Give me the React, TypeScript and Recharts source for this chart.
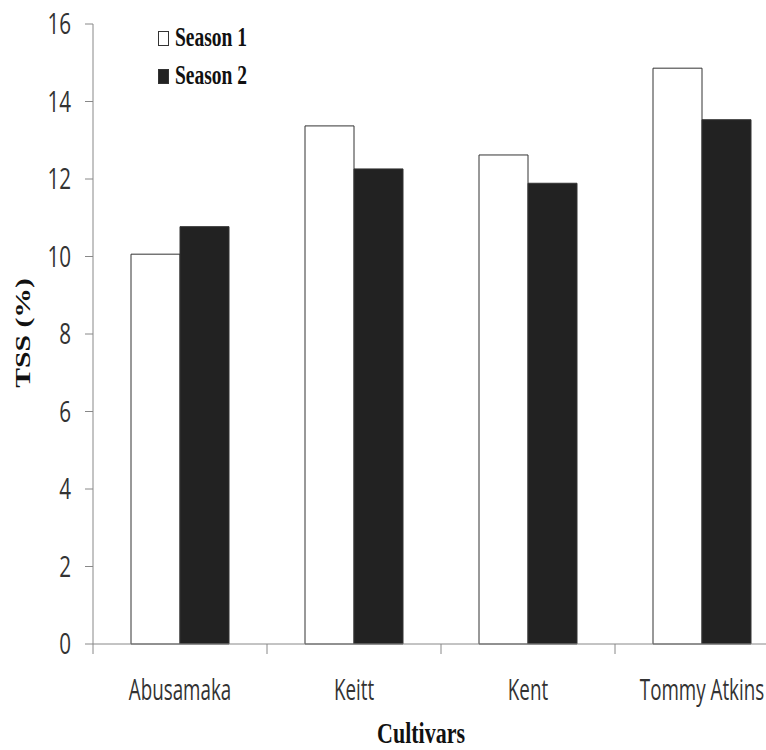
import { BarChart, Bar, XAxis, YAxis, Legend } from 'recharts'

const CULTIVARS = ['Abusamaka', 'Keitt', 'Kent', 'Tommy Atkins']
const SEASON_1 = [10.06, 13.37, 12.62, 14.86]
const SEASON_2 = [10.77, 12.26, 11.89, 13.53]
const Y_TICKS = [0, 2, 4, 6, 8, 10, 12, 14, 16]

const data = CULTIVARS.map((name, i) => ({ name, s1: SEASON_1[i], s2: SEASON_2[i] }))

const SANS = '"Open Sans", "DejaVu Sans", sans-serif'
const SERIF = '"Liberation Serif", "DejaVu Serif", serif'
const STRETCH = 1.35

function YTick({ x, y, payload }: any) {
  return (
    <g transform={`translate(${x - 12},${y}) scale(0.86,1.2)`}>
      <text textAnchor="end" dy="0.36em" fontFamily={SANS} fontSize={24} fill="#333">
        {payload.value}
      </text>
    </g>
  )
}

function XTick({ x, y, payload }: any) {
  // excel style: tick marks sit on the category boundaries
  return (
    <g>
      <line x1={x - 87} y1={y} x2={x - 87} y2={y + 10} stroke="#888" />
      <g transform={`translate(${x},${y + 45}) scale(0.8,1.25)`}>
        <text textAnchor="middle" dy="0.36em" fontFamily={SANS} fontSize={23.5} fill="#333">
          {payload.value}
        </text>
      </g>
    </g>
  )
}

function LegendBox() {
  const items = [
    { label: 'Season 1', fill: '#fff' },
    { label: 'Season 2', fill: '#222' },
  ]
  return (
    <div>
      {items.map(it => (
        <div key={it.label} style={{ display: 'flex', alignItems: 'center', height: 38 }}>
          <div style={{ width: 9, height: 13, background: it.fill, border: '1px solid #333', marginRight: 6 }} />
          <span
            style={{
              fontFamily: SERIF, fontWeight: 'bold', fontSize: 19.5, color: '#111',
              display: 'inline-block', transform: `scaleY(${STRETCH})`,
            }}
          >
            {it.label}
          </span>
        </div>
      ))}
    </div>
  )
}

export default function App() {
  return (
    <div style={{ position: 'absolute', left: 0, top: 0, width: 766, height: 750, overflow: 'hidden', background: '#fff' }}>
      <BarChart width={789} height={750} data={data} margin={{ top: 24, right: 0, left: 0, bottom: 46 }}
        barCategoryGap={38} barGap={0}>
        <XAxis dataKey="name" height={60} stroke="#888" tickLine={false} tickSize={0} tickMargin={0}
          tick={<XTick />} interval={0}
          label={{
            content: () => (
              <g transform={`translate(421,733) scale(1,1.3)`}>
                <text textAnchor="middle" dy="0.36em" fontFamily={SERIF} fontWeight="bold" fontSize={22} fill="#111">
                  Cultivars
                </text>
              </g>
            ),
          }} />
        <YAxis width={93} domain={[0, 16]} ticks={Y_TICKS} stroke="#888" tickSize={8} tick={<YTick />}
          interval={0}
          label={{
            content: () => (
              <g transform={`translate(22,333) rotate(-90) scale(${STRETCH},1)`}>
                <text textAnchor="middle" dy="0.36em" fontFamily={SERIF} fontWeight="bold" fontSize={22} fill="#111">
                  TSS (%)
                </text>
              </g>
            ),
          }} />
        <Legend layout="horizontal" verticalAlign="middle" align="center" content={<LegendBox />}
          wrapperStyle={{ top: 19, left: 158, width: 'auto' }} />
        <Bar dataKey="s1" name="Season 1" fill="#fff" stroke="#333" strokeWidth={1} isAnimationActive={false} />
        <Bar dataKey="s2" name="Season 2" fill="#222" stroke="#333" strokeWidth={1} isAnimationActive={false} />
      </BarChart>
    </div>
  )
}
